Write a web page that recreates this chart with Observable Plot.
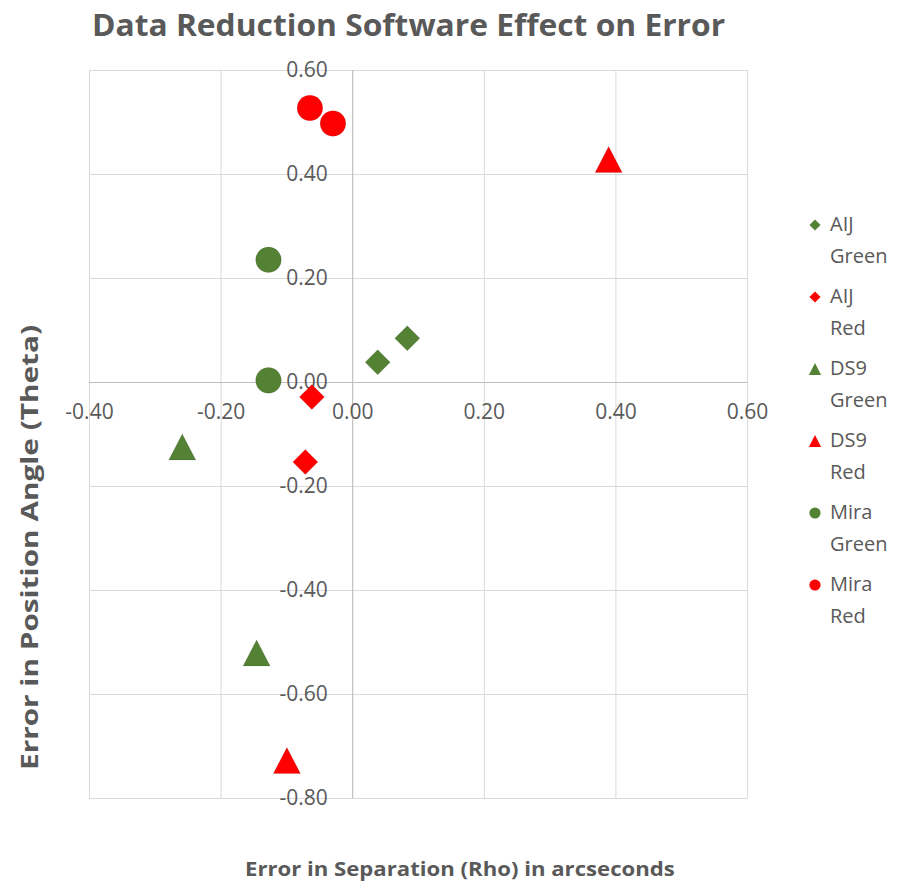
<!DOCTYPE html>
<html>
<head>
<meta charset="utf-8">
<script src="https://cdn.jsdelivr.net/npm/d3@7"></script>
<script src="https://cdn.jsdelivr.net/npm/@observablehq/plot@0.6"></script>
<style>
  html, body { margin: 0; padding: 0; background: #ffffff; }
  #wrap { position: relative; width: 898px; height: 888px; overflow: hidden;
          font-family: "Open Sans", "DejaVu Sans", sans-serif; color: #595959; }
  #wrap > svg { position: absolute; left: 0; top: 0; }
  .abs { position: absolute; left: 0; top: 0; white-space: nowrap; line-height: 1; transform-origin: 0 0; }
</style>
</head>
<body>
<div id="wrap"></div>
<script>
// ---------- data ----------
const seriesNames  = ["AIJ Green", "AIJ Red", "DS9 Green", "DS9 Red", "Mira Green", "Mira Red"];
const softwareOf   = ["AIJ", "AIJ", "DS9", "DS9", "Mira", "Mira"];
const filterOf     = ["Green", "Red", "Green", "Red", "Green", "Red"];
// Error in Separation (Rho), arcseconds
const rhoAijGreen  = [0.038, 0.083];
const rhoAijRed    = [-0.062, -0.072];
const rhoDs9Green  = [-0.259, -0.146];
const rhoDs9Red    = [0.389, -0.100];
const rhoMiraGreen = [-0.128, -0.128];
const rhoMiraRed   = [-0.065, -0.030];
// Error in Position Angle (Theta)
const thAijGreen   = [0.039, 0.085];
const thAijRed     = [-0.028, -0.153];
const thDs9Green   = [-0.124, -0.520];
const thDs9Red     = [0.429, -0.727];
const thMiraGreen  = [0.236, 0.004];
const thMiraRed    = [0.528, 0.498];
const xTicks = [-0.4, -0.2, 0, 0.2, 0.4, 0.6];
const yTicks = [0.6, 0.4, 0.2, 0, -0.2, -0.4, -0.6, -0.8];
const filterNames  = ["Green", "Red"];
const filterColors = ["#548235", "#ff0000"];

const rhoSets = [rhoAijGreen, rhoAijRed, rhoDs9Green, rhoDs9Red, rhoMiraGreen, rhoMiraRed];
const thSets  = [thAijGreen, thAijRed, thDs9Green, thDs9Red, thMiraGreen, thMiraRed];
const colorOf = f => filterColors[filterNames.indexOf(f)];
const rows = [];
seriesNames.forEach((s, i) => {
  rhoSets[i].forEach((v, j) => rows.push({series: s, software: softwareOf[i], filter: filterOf[i], rho: v, theta: thSets[i][j]}));
});

// ---------- symbols (Excel-like markers) ----------
const diamondSym = {draw(ctx, size) {
  const r = Math.sqrt(size / Math.PI), a = r * 0.96;
  ctx.moveTo(0, -a); ctx.lineTo(a, 0); ctx.lineTo(0, a); ctx.lineTo(-a, 0); ctx.closePath();
}};
const triangleSym = {draw(ctx, size) {
  const r = Math.sqrt(size / Math.PI), w = r * 1.04, h = r * 1.0;
  ctx.moveTo(0, -h); ctx.lineTo(w, h); ctx.lineTo(-w, h); ctx.closePath();
}};
const circleSym = d3.symbolCircle;

const fmt = d => d.toFixed(2);
const dotOpts = {x: "rho", y: "theta", fill: d => colorOf(d.filter), stroke: "#000", strokeOpacity: 0.1, strokeWidth: 1};

const chart = Plot.plot({
  width: 898,
  height: 888,
  marginLeft: 89,
  marginRight: 151,
  marginTop: 70,
  marginBottom: 90,
  x: {domain: [-0.4, 0.6], axis: null},
  y: {domain: [-0.8, 0.6], axis: null},
  color: {type: "identity"},
  style: {fontFamily: '"Open Sans", sans-serif', background: "transparent", overflow: "visible"},
  marks: [
    Plot.ruleX(xTicks, {stroke: "#d9d9d9", strokeWidth: 1}),
    Plot.ruleY(yTicks, {stroke: "#d9d9d9", strokeWidth: 1}),
    Plot.ruleX([0], {stroke: "#bfbfbf", strokeWidth: 1}),
    Plot.ruleY([0], {stroke: "#bfbfbf", strokeWidth: 1}),
    Plot.text(yTicks, {x: () => 0, y: d => d, text: fmt, textAnchor: "end", dx: -25, fontSize: 21, fill: "#595959"}),
    Plot.text(xTicks, {x: d => d, y: () => 0, text: fmt, dy: 30, fontSize: 21, fill: "#595959"}),
    Plot.dot(rows.filter(d => d.software === "Mira"), {...dotOpts, symbol: "circle", r: 12.8}),
    Plot.dot(rows.filter(d => d.software === "AIJ"), {...dotOpts, symbol: diamondSym, r: 13}),
    Plot.dot(rows.filter(d => d.software === "DS9"), {...dotOpts, symbol: triangleSym, r: 13})
  ]
});

const wrap = document.getElementById("wrap");
wrap.appendChild(chart);

// ---------- text overlays ----------
function addText(txt, opts) {
  const el = document.createElement("div");
  el.className = "abs";
  el.textContent = txt;
  el.style.fontSize = opts.size + "px";
  el.style.fontWeight = opts.weight || 400;
  el.style.color = opts.color || "#595959";
  wrap.appendChild(el);
  const w = el.offsetWidth;
  const s = opts.width ? opts.width / w : 1;
  el.style.transform = `translate(${opts.x}px, ${opts.y}px)` + (opts.rotate ? ` rotate(${opts.rotate}deg)` : "") + ` scaleX(${s})`;
  return el;
}

// title
addText("Data Reduction Software Effect on Error", {size: 31, weight: 700, x: 92, y: 37 - 0.888 * 31, width: 633});
// x-axis title
addText("Error in Separation (Rho) in arcseconds", {size: 19, weight: 700, x: 245, y: 877 - 0.888 * 19, width: 430});
// y-axis title (rotated)
addText("Error in Position Angle (Theta)", {size: 23, weight: 700, x: 38 - 0.888 * 23, y: 770, rotate: -90, width: 445});

// ---------- legend ----------
const legendSvg = d3.select(wrap).append("svg")
  .attr("width", 898).attr("height", 888)
  .style("position", "absolute").style("left", "0px").style("top", "0px");
const legendSymbols = [diamondSym, diamondSym, triangleSym, triangleSym, circleSym, circleSym];
const legendR = [5.8, 5.8, 5.9, 5.9, 5.6, 5.6];
seriesNames.forEach((name, i) => {
  const cy = 225 + 72 * i;
  legendSvg.append("path")
    .attr("transform", `translate(815,${cy})`)
    .attr("d", d3.symbol(legendSymbols[i], Math.PI * legendR[i] * legendR[i])())
    .attr("fill", colorOf(filterOf[i]));
  const [l1, l2] = name.split(" ");
  addText(l1, {size: 20, x: 830, y: cy - 0.531 * 20});
  addText(l2, {size: 20, x: 830, y: cy + 31.5 - 0.531 * 20});
});
</script>
</body>
</html>
